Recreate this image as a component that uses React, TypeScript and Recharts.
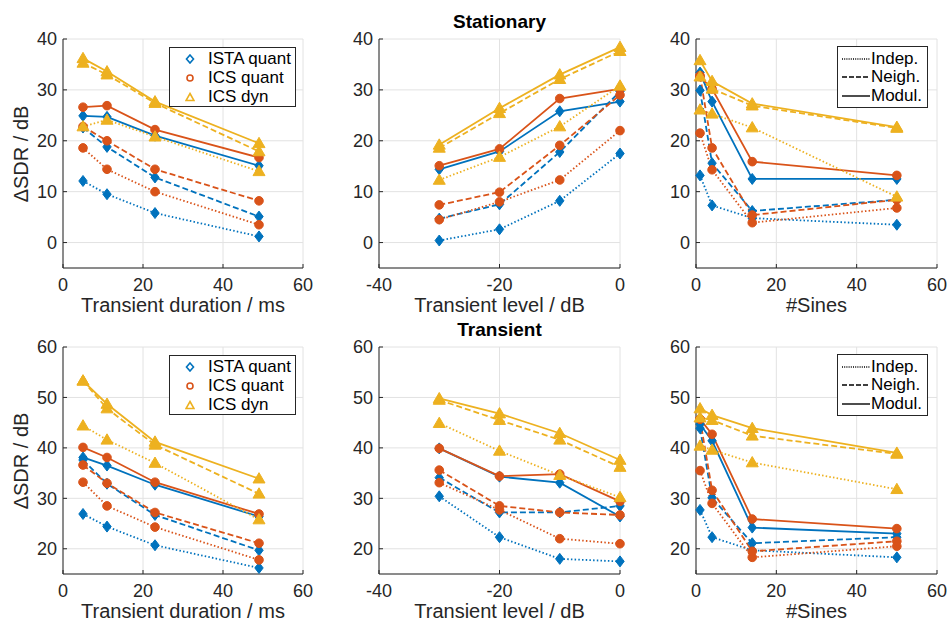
import React from 'react';
import { LineChart, Line, XAxis, YAxis, CartesianGrid } from 'recharts';

const BLUE = '#0072BD';
const ORANGE = '#D95319';
const YELLOW = '#EDB120';
const INK = '#262626';
const FONT = '"Liberation Sans", Arial, Helvetica, sans-serif';

// x values
const durationMs = [5, 11, 23, 49];
const levelDb = [-30, -20, -10, 0];
const numSines = [1, 4, 14, 50];

// Stationary, vs transient duration
const sdIstaIndep = [12.1, 9.5, 5.8, 1.2];
const sdIstaNeigh = [22.6, 18.8, 12.8, 5.1];
const sdIstaModul = [24.9, 24.7, 21.0, 15.1];
const sdIcsqIndep = [18.6, 14.4, 10.0, 3.5];
const sdIcsqNeigh = [22.8, 20.0, 14.4, 8.2];
const sdIcsqModul = [26.6, 26.9, 22.2, 16.7];
const sdIcsdIndep = [22.8, 24.1, 20.8, 14.0];
const sdIcsdNeigh = [35.3, 33.0, 27.4, 17.9];
const sdIcsdModul = [36.2, 33.6, 27.7, 19.5];

// Stationary, vs transient level
const slIstaIndep = [0.4, 2.6, 8.2, 17.5];
const slIstaNeigh = [4.7, 7.5, 17.8, 29.7];
const slIstaModul = [14.4, 17.9, 25.8, 27.7];
const slIcsqIndep = [4.5, 8.0, 12.3, 22.0];
const slIcsqNeigh = [7.4, 9.9, 19.1, 29.0];
const slIcsqModul = [15.1, 18.4, 28.3, 30.2];
const slIcsdIndep = [12.3, 16.8, 22.8, 30.8];
const slIcsdNeigh = [18.6, 25.4, 32.1, 37.6];
const slIcsdModul = [19.2, 26.4, 33.0, 38.4];

// Stationary, vs number of sines
const ssIstaIndep = [13.2, 7.3, 4.8, 3.5];
const ssIstaNeigh = [29.9, 15.6, 6.2, 8.4];
const ssIstaModul = [33.4, 27.7, 12.5, 12.5];
const ssIcsqIndep = [21.5, 14.3, 3.9, 6.8];
const ssIcsqNeigh = [32.8, 18.6, 5.4, 8.4];
const ssIcsqModul = [32.6, 30.2, 15.9, 13.2];
const ssIcsdIndep = [26.1, 25.3, 22.6, 9.0];
const ssIcsdNeigh = [32.6, 30.2, 26.9, 22.5];
const ssIcsdModul = [35.8, 31.7, 27.3, 22.7];

// Transient, vs transient duration
const tdIstaIndep = [26.9, 24.4, 20.7, 16.2];
const tdIstaNeigh = [37.6, 32.9, 26.7, 19.7];
const tdIstaModul = [38.1, 36.5, 32.7, 26.4];
const tdIcsqIndep = [33.2, 28.5, 24.3, 17.8];
const tdIcsqNeigh = [36.6, 33.0, 27.2, 21.1];
const tdIcsqModul = [40.1, 38.1, 33.2, 26.9];
const tdIcsdIndep = [44.4, 41.6, 37.0, 25.8];
const tdIcsdNeigh = [53.3, 47.8, 40.6, 30.9];
const tdIcsdModul = [53.3, 48.7, 41.2, 33.9];

// Transient, vs transient level
const tlIstaIndep = [30.4, 22.3, 18.0, 17.5];
const tlIstaNeigh = [34.1, 27.2, 27.2, 28.5];
const tlIstaModul = [39.9, 34.3, 33.1, 26.4];
const tlIcsqIndep = [33.1, 27.7, 22.0, 21.0];
const tlIcsqNeigh = [35.6, 28.5, 27.2, 26.7];
const tlIcsqModul = [39.9, 34.4, 34.8, 29.4];
const tlIcsdIndep = [44.9, 39.4, 34.6, 30.2];
const tlIcsdNeigh = [49.5, 45.5, 41.6, 36.2];
const tlIcsdModul = [49.8, 46.8, 42.9, 37.6];

// Transient, vs number of sines
const tsIstaIndep = [27.7, 22.3, 19.7, 18.3];
const tsIstaNeigh = [43.9, 30.1, 21.1, 22.3];
const tsIstaModul = [44.7, 41.4, 24.2, 23.0];
const tsIcsqIndep = [35.5, 29.0, 18.3, 20.5];
const tsIcsqNeigh = [45.7, 31.6, 19.5, 21.5];
const tsIcsqModul = [45.7, 42.7, 25.9, 24.0];
const tsIcsdIndep = [40.4, 39.6, 37.1, 31.8];
const tsIcsdNeigh = [46.0, 45.5, 42.4, 38.8];
const tsIcsdModul = [47.8, 46.5, 43.9, 39.0];

const durTicks = [0, 20, 40, 60];
const levelTicks = [-40, -20, 0];
const sinesTicks = [0, 20, 40, 60];
const statYTicks = [0, 10, 20, 30, 40];
const transYTicks = [20, 30, 40, 50, 60];

const methodNames = ['ISTA quant', 'ICS quant', 'ICS dyn'];
const styleNames = ['Indep.', 'Neigh.', 'Modul.'];

const DOT = '1.5 2.2';
const DASH = '6 3';

type Shape = 'diamond' | 'circle' | 'triangle';

const SERIES: { key: string; color: string; shape: Shape; dash?: string }[] = [
  { key: 'istaIndep', color: BLUE, shape: 'diamond', dash: DOT },
  { key: 'istaNeigh', color: BLUE, shape: 'diamond', dash: DASH },
  { key: 'istaModul', color: BLUE, shape: 'diamond' },
  { key: 'icsqIndep', color: ORANGE, shape: 'circle', dash: DOT },
  { key: 'icsqNeigh', color: ORANGE, shape: 'circle', dash: DASH },
  { key: 'icsqModul', color: ORANGE, shape: 'circle' },
  { key: 'icsdIndep', color: YELLOW, shape: 'triangle', dash: DOT },
  { key: 'icsdNeigh', color: YELLOW, shape: 'triangle', dash: DASH },
  { key: 'icsdModul', color: YELLOW, shape: 'triangle' },
];

function buildRows(xs: number[], cols: number[][]) {
  return xs.map((x, i) => {
    const row: Record<string, number> = { x };
    SERIES.forEach((s, j) => {
      row[s.key] = cols[j][i];
    });
    return row;
  });
}

const sdRows = buildRows(durationMs, [sdIstaIndep, sdIstaNeigh, sdIstaModul, sdIcsqIndep, sdIcsqNeigh, sdIcsqModul, sdIcsdIndep, sdIcsdNeigh, sdIcsdModul]);
const slRows = buildRows(levelDb, [slIstaIndep, slIstaNeigh, slIstaModul, slIcsqIndep, slIcsqNeigh, slIcsqModul, slIcsdIndep, slIcsdNeigh, slIcsdModul]);
const ssRows = buildRows(numSines, [ssIstaIndep, ssIstaNeigh, ssIstaModul, ssIcsqIndep, ssIcsqNeigh, ssIcsqModul, ssIcsdIndep, ssIcsdNeigh, ssIcsdModul]);
const tdRows = buildRows(durationMs, [tdIstaIndep, tdIstaNeigh, tdIstaModul, tdIcsqIndep, tdIcsqNeigh, tdIcsqModul, tdIcsdIndep, tdIcsdNeigh, tdIcsdModul]);
const tlRows = buildRows(levelDb, [tlIstaIndep, tlIstaNeigh, tlIstaModul, tlIcsqIndep, tlIcsqNeigh, tlIcsqModul, tlIcsdIndep, tlIcsdNeigh, tlIcsdModul]);
const tsRows = buildRows(numSines, [tsIstaIndep, tsIstaNeigh, tsIstaModul, tsIcsqIndep, tsIcsqNeigh, tsIcsqModul, tsIcsdIndep, tsIcsdNeigh, tsIcsdModul]);

function Marker({ cx, cy, shape, color }: { cx?: number; cy?: number; shape: Shape; color: string }) {
  if (cx == null || cy == null) return null;
  if (shape === 'diamond') {
    return <polygon points={`${cx},${cy - 5.5} ${cx + 4.2},${cy} ${cx},${cy + 5.5} ${cx - 4.2},${cy}`} fill={color} stroke={color} strokeWidth={1} />;
  }
  if (shape === 'circle') {
    return <circle cx={cx} cy={cy} r={4.3} fill={color} stroke={color} strokeWidth={1} />;
  }
  return <polygon points={`${cx},${cy - 6} ${cx + 6},${cy + 4.3} ${cx - 6},${cy + 4.3}`} fill={color} stroke={color} strokeWidth={1} />;
}

const COLS = [
  { left: 63, width: 240 },
  { left: 379, width: 241 },
  { left: 696, width: 241 },
];
const ROWS = [
  { top: 39, height: 229 },
  { top: 347, height: 227 },
];

const ML = 60;
const MT = 10;
const MR = 10;
const XH = 40;

const tickStyle = { fill: INK, fontSize: 18, fontFamily: FONT };

function Panel(props: {
  col: number;
  row: number;
  data: Record<string, number>[];
  xDomain: [number, number];
  xTicks: number[];
  yDomain: [number, number];
  yTicks: number[];
}) {
  const c = COLS[props.col];
  const r = ROWS[props.row];
  return (
    <div style={{ position: 'absolute', left: c.left - ML, top: r.top - MT }}>
      <LineChart
        width={c.width + ML + MR}
        height={r.height + MT + XH}
        data={props.data}
        margin={{ top: MT, right: MR, bottom: 0, left: 0 }}
      >
        <CartesianGrid stroke="#e2e2e2" strokeWidth={1} />
        <XAxis
          dataKey="x"
          type="number"
          domain={props.xDomain}
          ticks={props.xTicks}
          interval={0}
          height={XH}
          axisLine={{ stroke: INK }}
          tickLine={{ stroke: INK }}
          tickSize={-4}
          tickMargin={14}
          tick={tickStyle}
        />
        <YAxis
          type="number"
          domain={props.yDomain}
          ticks={props.yTicks}
          interval={0}
          width={ML}
          axisLine={{ stroke: INK }}
          tickLine={{ stroke: INK }}
          tickSize={-4}
          tickMargin={10}
          tick={tickStyle}
        />
        {SERIES.map((s) => (
          <Line
            key={s.key}
            type="linear"
            dataKey={s.key}
            stroke={s.color}
            strokeWidth={1.8}
            strokeDasharray={s.dash}
            dot={(p: any) => (
              <Marker key={`${s.key}-${p.index}`} cx={p.cx} cy={p.cy} shape={s.shape} color={s.color} />
            )}
            activeDot={false}
            isAnimationActive={false}
          />
        ))}
      </LineChart>
    </div>
  );
}

function LegendMarker({ shape, color }: { shape: Shape; color: string }) {
  return (
    <svg width={10} height={10} style={{ display: 'block' }}>
      {shape === 'diamond' && <polygon points="5,1 8.5,5 5,9 1.5,5" fill="white" stroke={color} strokeWidth={1.6} />}
      {shape === 'circle' && <circle cx={5} cy={5} r={3} fill="white" stroke={color} strokeWidth={1.6} />}
      {shape === 'triangle' && <polygon points="5,1.5 9,8.5 1,8.5" fill="white" stroke={color} strokeWidth={1.6} />}
    </svg>
  );
}

function MethodLegend({ left, top }: { left: number; top: number }) {
  const shapes: Shape[] = ['diamond', 'circle', 'triangle'];
  const colors = [BLUE, ORANGE, YELLOW];
  return (
    <div
      style={{
        position: 'absolute',
        left,
        top,
        width: 125,
        height: 58,
        border: `1px solid ${INK}`,
        background: 'white',
        fontFamily: FONT,
        fontSize: 17,
        color: '#000',
      }}
    >
      {methodNames.map((name, i) => (
        <div key={name} style={{ position: 'absolute', left: 0, top: 1 + i * 19, height: 19, display: 'flex', alignItems: 'center' }}>
          <div style={{ width: 36, display: 'flex', justifyContent: 'center', paddingLeft: 2 }}>
            <LegendMarker shape={shapes[i]} color={colors[i]} />
          </div>
          <span style={{ whiteSpace: 'nowrap' }}>{name}</span>
        </div>
      ))}
    </div>
  );
}

function StyleLegend({ left, top }: { left: number; top: number }) {
  const dashes = ['1 1.2', '5 2', undefined];
  return (
    <div
      style={{
        position: 'absolute',
        left,
        top,
        width: 89,
        height: 60,
        border: `1px solid ${INK}`,
        background: 'white',
        fontFamily: FONT,
        fontSize: 17,
        color: '#000',
      }}
    >
      {styleNames.map((name, i) => (
        <div key={name} style={{ position: 'absolute', left: 0, top: 2 + i * 18.5, height: 19, display: 'flex', alignItems: 'center' }}>
          <svg width={33} height={10} style={{ display: 'block' }}>
            <line x1={4} x2={32} y1={5} y2={5} stroke="#000" strokeWidth={1.4} strokeDasharray={dashes[i]} />
          </svg>
          <span style={{ whiteSpace: 'nowrap' }}>{name}</span>
        </div>
      ))}
    </div>
  );
}

function Text({ x, y, children, bold, rotate }: { x: number; y: number; children: React.ReactNode; bold?: boolean; rotate?: boolean }) {
  return (
    <div
      style={{
        position: 'absolute',
        left: x,
        top: y,
        transform: `translate(-50%, -50%)${rotate ? ' rotate(-90deg)' : ''}`,
        whiteSpace: 'nowrap',
        fontFamily: FONT,
        fontSize: bold ? 19 : 20,
        fontWeight: bold ? 700 : 400,
        color: bold ? '#000' : INK,
        lineHeight: 1,
      }}
    >
      {children}
    </div>
  );
}

export default function App() {
  const cx = (i: number) => COLS[i].left + COLS[i].width / 2;
  const cy = (j: number) => ROWS[j].top + ROWS[j].height / 2;
  return (
    <div style={{ position: 'absolute', left: 0, top: 0, width: 947, height: 623, background: 'white', overflow: 'hidden' }}>
      <Panel col={0} row={0} data={sdRows} xDomain={[0, 60]} xTicks={durTicks} yDomain={[-5, 40]} yTicks={statYTicks} />
      <Panel col={1} row={0} data={slRows} xDomain={[-40, 0]} xTicks={levelTicks} yDomain={[-5, 40]} yTicks={statYTicks} />
      <Panel col={2} row={0} data={ssRows} xDomain={[0, 60]} xTicks={sinesTicks} yDomain={[-5, 40]} yTicks={statYTicks} />
      <Panel col={0} row={1} data={tdRows} xDomain={[0, 60]} xTicks={durTicks} yDomain={[15, 60]} yTicks={transYTicks} />
      <Panel col={1} row={1} data={tlRows} xDomain={[-40, 0]} xTicks={levelTicks} yDomain={[15, 60]} yTicks={transYTicks} />
      <Panel col={2} row={1} data={tsRows} xDomain={[0, 60]} xTicks={sinesTicks} yDomain={[15, 60]} yTicks={transYTicks} />

      <MethodLegend left={169} top={47} />
      <MethodLegend left={169} top={355} />
      <StyleLegend left={837} top={46} />
      <StyleLegend left={837} top={354} />

      <Text x={cx(1)} y={21} bold>Stationary</Text>
      <Text x={cx(1)} y={329} bold>Transient</Text>

      <Text x={21} y={cy(0)} rotate>ΔSDR / dB</Text>
      <Text x={21} y={cy(1)} rotate>ΔSDR / dB</Text>

      <Text x={cx(0)} y={305}>Transient duration / ms</Text>
      <Text x={cx(1)} y={305}>Transient level / dB</Text>
      <Text x={cx(2)} y={305}>#Sines</Text>
      <Text x={cx(0)} y={611}>Transient duration / ms</Text>
      <Text x={cx(1)} y={611}>Transient level / dB</Text>
      <Text x={cx(2)} y={611}>#Sines</Text>
    </div>
  );
}
